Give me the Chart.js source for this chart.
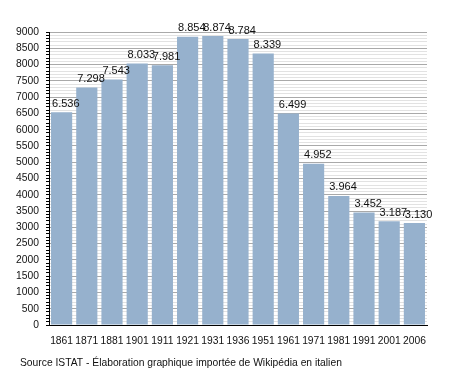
<!DOCTYPE html>
<html>
<head>
<meta charset="utf-8">
<script src="https://cdn.jsdelivr.net/npm/chart.js@4/dist/chart.umd.min.js"></script>
<style>
  html, body { margin: 0; padding: 0; background: #fff; }
  #wrap { width: 455px; height: 373px; position: relative; }
</style>
</head>
<body>
<div id="wrap"><canvas id="c" width="455" height="373"></canvas></div>
<script>
// census years and population
const years = ['1861', '1871', '1881', '1901', '1911', '1921', '1931', '1936', '1951', '1961', '1971', '1981', '1991', '2001', '2006'];
const population = [6536, 7298, 7543, 8033, 7981, 8854, 8874, 8784, 8339, 6499, 4952, 3964, 3452, 3187, 3130];
const yMax = 9000;
const yMajorStep = 500;
const yMinorStep = 100;
const footerText = 'Source ISTAT - Élaboration graphique importée de Wikipédia en italien';

const FONT = '"Liberation Sans", Arial, Helvetica, sans-serif';

// valeurs au-dessus des barres, format italien (6.536)
const valueLabels = {
  id: 'valueLabels',
  afterDatasetsDraw(chart) {
    const { ctx } = chart;
    const meta = chart.getDatasetMeta(0);
    ctx.save();
    ctx.font = '11px ' + FONT;
    ctx.fillStyle = '#111';
    ctx.textAlign = 'left';
    ctx.textBaseline = 'bottom';
    meta.data.forEach((bar, i) => {
      const txt = population[i].toLocaleString('it-IT');
      ctx.fillText(txt, bar.x - bar.width / 2 + 1, bar.y - 3);
    });
    ctx.restore();
  },
};

const footer = {
  id: 'footer',
  afterDraw(chart) {
    const { ctx } = chart;
    ctx.save();
    ctx.font = '10.3px ' + FONT;
    ctx.fillStyle = '#111';
    ctx.textBaseline = 'middle';
    ctx.fillText(footerText, 20, 363);
    ctx.restore();
  },
};

new Chart(document.getElementById('c'), {
  type: 'bar',
  data: {
    labels: years,
    datasets: [{
      data: population,
      backgroundColor: '#96b1cd',
      borderWidth: 0,
      categoryPercentage: 0.84,
      barPercentage: 1,
    }],
  },
  options: {
    responsive: false,
    animation: false,
    layout: { padding: { top: 32, right: 28, bottom: 0, left: 0 } },
    plugins: { legend: { display: false }, tooltip: { enabled: false } },
    scales: {
      x: {
        grid: { display: false },
        border: { display: true, color: '#000', width: 1 },
        ticks: { font: { family: FONT, size: 10.3 }, color: '#111', padding: 2, maxRotation: 0, autoSkip: false },
        afterFit(s) { s.height = 48; },
      },
      y: {
        min: 0,
        max: yMax,
        border: { display: true, color: '#000', width: 1 },
        grid: {
          color: c => (c.tick && c.tick.value % yMajorStep === 0 ? '#a9a9a9' : '#e2e2e2'),
          tickColor: '#000',
          tickLength: 3,
        },
        ticks: {
          stepSize: yMinorStep,
          autoSkip: false,
          font: { family: FONT, size: 10.3 },
          color: '#111',
          padding: 7,
          callback: v => (v % yMajorStep === 0 ? String(v) : ''),
        },
        afterFit(s) { s.width = 49; },
      },
    },
  },
  plugins: [valueLabels, footer],
});
</script>
</body>
</html>
